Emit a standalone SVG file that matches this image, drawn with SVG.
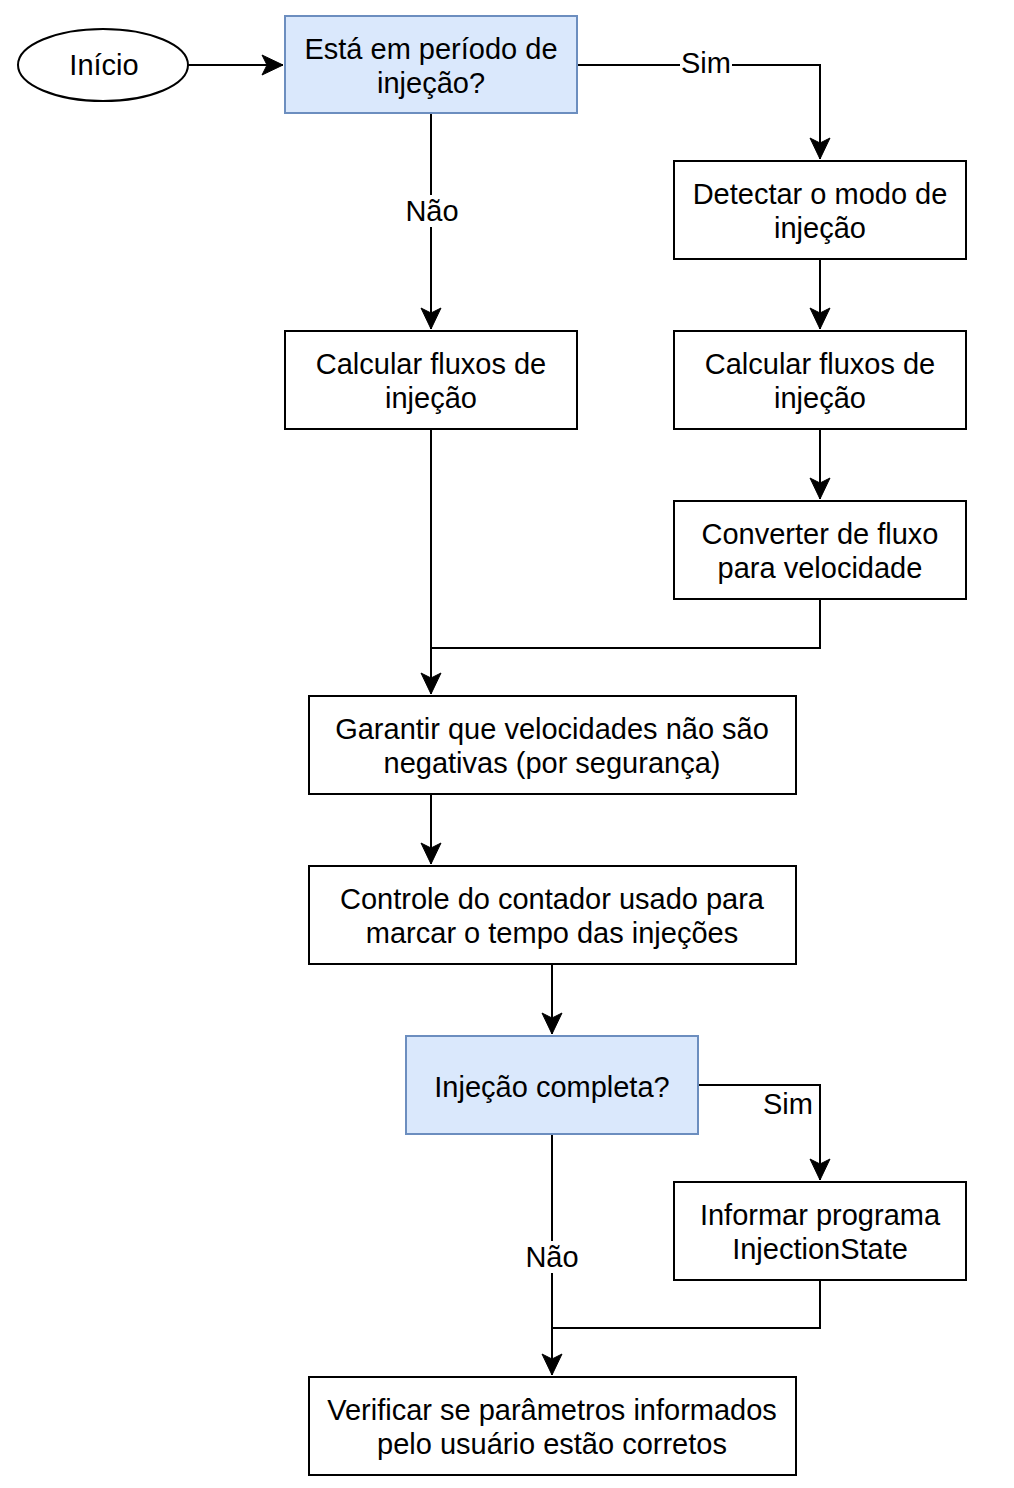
<svg xmlns="http://www.w3.org/2000/svg" width="1014" height="1488" viewBox="0 0 1014 1488">
<style>
.box{fill:#ffffff;stroke:#000000;stroke-width:2}
.dec{fill:#dae8fc;stroke:#6c8ebf;stroke-width:2}
.t{font-family:"Liberation Sans",Arial,sans-serif;font-size:29px;fill:#000000;text-anchor:middle}
.c{fill:none;stroke:#000000;stroke-width:2}
.lbg{fill:#ffffff}
</style>
<defs>
<marker id="arr" markerUnits="userSpaceOnUse" markerWidth="24" markerHeight="24" refX="22" refY="11" orient="auto">
<path d="M1,1 L22,11 L1,21 L6,11 Z" fill="#000000" stroke="#000000" stroke-width="1"/>
</marker>
</defs>
<rect width="1014" height="1488" fill="#ffffff"/>
<g id="connectors">
<path class="c" d="M188,65 L283,65" marker-end="url(#arr)"/>
<path class="c" d="M577,65 L820,65 L820,159" marker-end="url(#arr)"/>
<path class="c" d="M431,113 L431,329" marker-end="url(#arr)"/>
<path class="c" d="M820,259 L820,329" marker-end="url(#arr)"/>
<path class="c" d="M820,429 L820,499" marker-end="url(#arr)"/>
<path class="c" d="M431,429 L431,694" marker-end="url(#arr)"/>
<path class="c" d="M820,599 L820,648 L431,648"/>
<path class="c" d="M431,794 L431,864" marker-end="url(#arr)"/>
<path class="c" d="M552,964 L552,1034" marker-end="url(#arr)"/>
<path class="c" d="M698,1085 L820,1085 L820,1180" marker-end="url(#arr)"/>
<path class="c" d="M552,1134 L552,1375" marker-end="url(#arr)"/>
<path class="c" d="M820,1280 L820,1328 L552,1328"/>
<rect class="lbg" x="680" y="48" width="52" height="32"/>
<text class="t" x="706" y="73">Sim</text>
<rect class="lbg" x="404" y="195" width="56" height="32"/>
<text class="t" x="432" y="221">Não</text>
<text class="t" x="788" y="1114">Sim</text>
<rect class="lbg" x="524" y="1241" width="58" height="32"/>
<text class="t" x="552" y="1267">Não</text>
</g>
<g id="inicio">
<ellipse cx="103" cy="65" rx="85" ry="36" class="box"/>
<text class="t" x="104" y="75">Início</text>
</g>
<g id="periodo">
<rect x="285" y="16" width="292" height="97" class="dec"/>
<text class="t" x="431" y="59">Está em período de</text>
<text class="t" x="431" y="93">injeção?</text>
</g>
<g id="detectar">
<rect x="674" y="161" width="292" height="98" class="box"/>
<text class="t" x="820" y="204">Detectar o modo de</text>
<text class="t" x="820" y="238">injeção</text>
</g>
<g id="calcular1">
<rect x="285" y="331" width="292" height="98" class="box"/>
<text class="t" x="431" y="374">Calcular fluxos de</text>
<text class="t" x="431" y="408">injeção</text>
</g>
<g id="calcular2">
<rect x="674" y="331" width="292" height="98" class="box"/>
<text class="t" x="820" y="374">Calcular fluxos de</text>
<text class="t" x="820" y="408">injeção</text>
</g>
<g id="converter">
<rect x="674" y="501" width="292" height="98" class="box"/>
<text class="t" x="820" y="544">Converter de fluxo</text>
<text class="t" x="820" y="578">para velocidade</text>
</g>
<g id="garantir">
<rect x="309" y="696" width="487" height="98" class="box"/>
<text class="t" x="552" y="739">Garantir que velocidades não são</text>
<text class="t" x="552" y="773">negativas (por segurança)</text>
</g>
<g id="controle">
<rect x="309" y="866" width="487" height="98" class="box"/>
<text class="t" x="552" y="909">Controle do contador usado para</text>
<text class="t" x="552" y="943">marcar o tempo das injeções</text>
</g>
<g id="completa">
<rect x="406" y="1036" width="292" height="98" class="dec"/>
<text class="t" x="552" y="1097">Injeção completa?</text>
</g>
<g id="informar">
<rect x="674" y="1182" width="292" height="98" class="box"/>
<text class="t" x="820" y="1225">Informar programa</text>
<text class="t" x="820" y="1259">InjectionState</text>
</g>
<g id="verificar">
<rect x="309" y="1377" width="487" height="98" class="box"/>
<text class="t" x="552" y="1420">Verificar se parâmetros informados</text>
<text class="t" x="552" y="1454">pelo usuário estão corretos</text>
</g>
</svg>
